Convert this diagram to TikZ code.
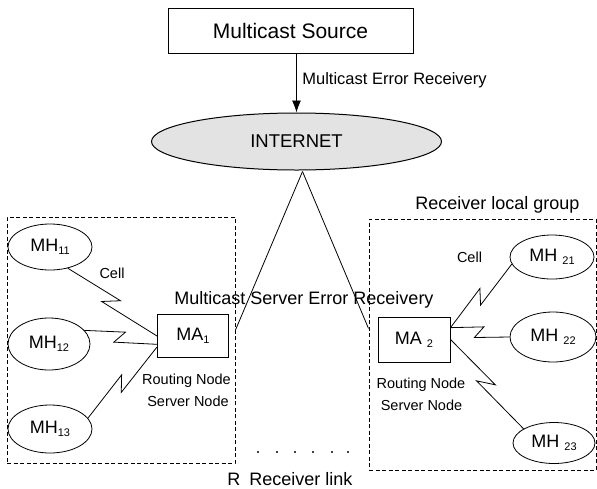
\documentclass[tikz,border=0pt]{standalone}
\usepackage{fontspec}
\setmainfont{Liberation Sans}
\usetikzlibrary{shapes.geometric,arrows.meta,calc}

\newcommand{\idx}[1]{\raisebox{-0.35ex}{\fontsize{11}{11}\selectfont #1}}

\begin{document}
\begin{tikzpicture}[
    x=1pt, y=-1pt, line width=0.8pt,
    host/.style={draw, ellipse, minimum width=84pt, minimum height=47pt,
                 inner sep=0pt, font=\fontsize{18}{20}\selectfont},
    agent/.style={draw, line width=1pt, minimum width=71pt, minimum height=43pt,
                  inner sep=0pt, font=\fontsize{18}{20}\selectfont},
    group/.style={draw, line width=1pt, dash pattern=on 4pt off 2.5pt, inner sep=0pt},
    lbl/.style={inner sep=0pt, font=\fontsize{14.5}{16}\selectfont},
    big/.style={inner sep=0pt, font=\fontsize{18}{20}\selectfont},
    zap/.style={to path={
        -- ($(\tikztostart)!.55!(\tikztotarget)!6pt!90:(\tikztotarget)$)
        -- ($(\tikztostart)!.42!(\tikztotarget)!6pt!-90:(\tikztotarget)$)
        -- (\tikztotarget)}}
]
\useasboundingbox (0,0) rectangle (597,488);

% source and internet
\node[draw, line width=1pt, minimum width=245pt, minimum height=45pt,
      font=\fontsize{21}{24}\selectfont] (src) at (290.5,30.5) {Multicast Source};
\node[draw, ellipse, line width=1pt, fill=gray!22, minimum width=290pt,
      minimum height=57pt, inner sep=0pt, font=\fontsize{18.5}{20}\selectfont]
      (net) at (296.5,141.5) {INTERNET};
\draw[-{Latex[length=12pt,width=9pt]}] (src.south -| net.north) -- (net.north);
\node[anchor=west, inner sep=0pt, font=\fontsize{16.5}{18}\selectfont]
      (errlbl) at (302,80) {Multicast Error Receivery};
\coordinate (hub) at ([xshift=6pt,yshift=-1pt]net.south);

% local groups
\node[group, minimum width=228pt, minimum height=246pt] (grpL) at (121,340) {};
\node[group, minimum width=227pt, minimum height=251pt] (grpR) at (482.5,344.5) {};
\node[big] (grplbl) at (497.5,205) {Receiver local group};
\draw (hub) -- (grpL.5);
\draw (hub) -- (grpR.172);
\node[big] (mserr) at (304,300) {Multicast Server Error Receivery};

% agents and hosts
\node[agent] (ma1) at (193,336) {MA\idx{1}};
\node[agent, minimum width=72pt, minimum height=45pt] (ma2) at (414,339.5) {MA \idx{2}};
\node[host, minimum height=46pt] (mh11) at (50,247) {MH\idx{11}};
\node[host, minimum width=82pt, minimum height=52pt] (mh12) at (49,344) {MH\idx{12}};
\node[host, minimum height=48pt] (mh13) at (50,429) {MH\idx{13}};
\node[host, minimum height=44pt] (mh21) at (552,257) {MH \idx{21}};
\node[host, minimum width=86pt, minimum height=50pt] (mh22) at (553,337) {MH \idx{22}};
\node[host, minimum width=82pt, minimum height=41pt] (mh23) at (554,443) {MH \idx{23}};

\draw (mh11.-50) to[zap] (ma1.west);
\draw (mh12.21) to[zap] (ma1.193);
\draw (mh13.16) to[zap] (ma1.197);
\draw (ma2.18) to[zap] (mh21.190);
\draw (ma2.18) to[zap] (mh22.west);
\draw (ma2.east) to[zap] (mh23.155);

\node[lbl] (cellL) at (112,273) {Cell};
\node[lbl] (cellR) at (469.5,257) {Cell};
\node[lbl] (routeL) at (186.5,381) {Routing Node};
\node[lbl] (servL) at (188,401) {Server Node};
\node[lbl] (routeR) at (421,385) {Routing Node};
\node[lbl] (servR) at (421.5,405) {Server Node};

% receiver link
\foreach \x in {258,277,295,313,332,348}
    \fill (\x,452) circle (1.2pt);
\node[big, anchor=west] (rlink) at (227,479) {R\hspace{0.5em}Receiver link};

\end{tikzpicture}
\end{document}
